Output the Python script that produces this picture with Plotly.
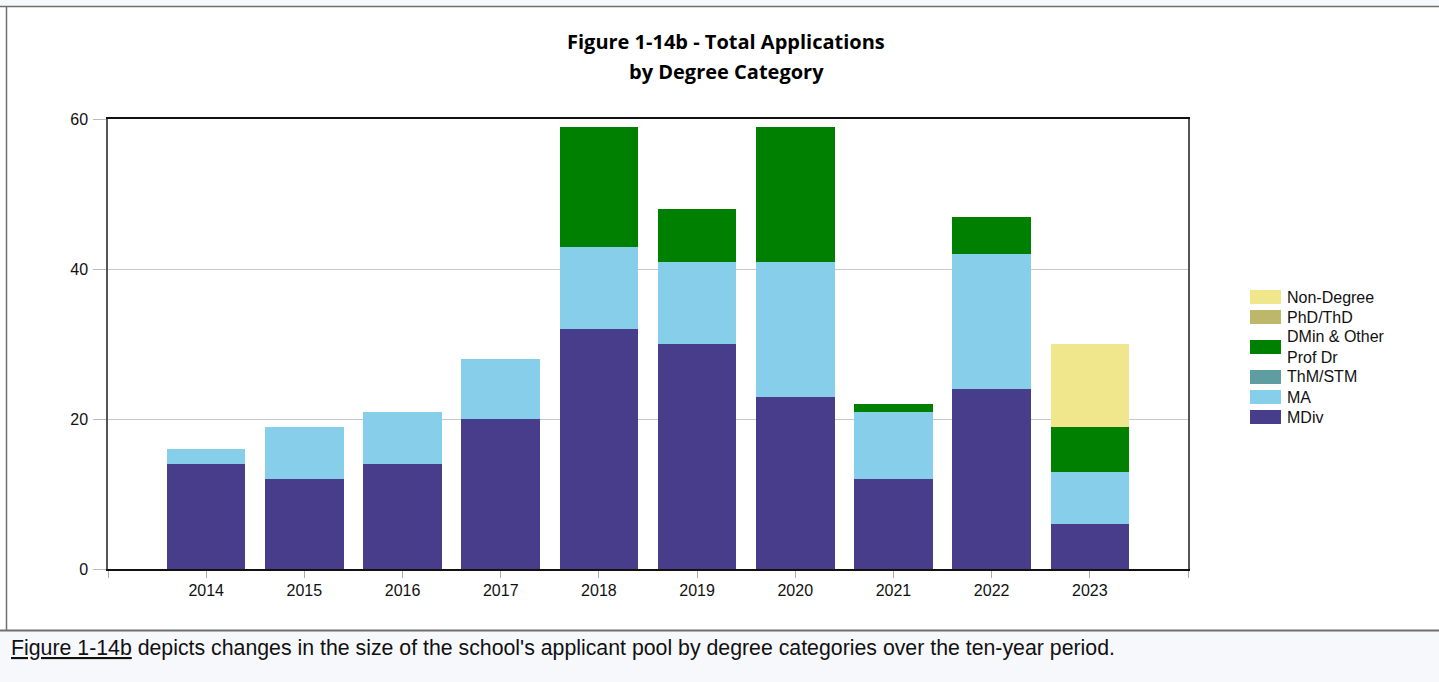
import plotly.graph_objects as go

# ---------------------------------------------------------------- data
years = [2014, 2015, 2016, 2017, 2018, 2019, 2020, 2021, 2022, 2023]
mdiv = [14, 12, 14, 20, 32, 30, 23, 12, 24, 6]
ma = [2, 7, 7, 8, 11, 11, 18, 9, 18, 7]
thm_stm = [0, 0, 0, 0, 0, 0, 0, 0, 0, 0]
dmin = [0, 0, 0, 0, 16, 7, 18, 1, 5, 6]
phd_thd = [0, 0, 0, 0, 0, 0, 0, 0, 0, 0]
non_degree = [0, 0, 0, 0, 0, 0, 0, 0, 0, 11]
y_ticks = [0, 20, 40, 60]

# stacking order bottom -> top
series = [
    ("MDiv", mdiv, "#483D8B"),
    ("MA", ma, "#87CEEB"),
    ("ThM/STM", thm_stm, "#5F9EA0"),
    ("DMin & Other<br>Prof Dr", dmin, "#008000"),
    ("PhD/ThD", phd_thd, "#BDB76B"),
    ("Non-Degree", non_degree, "#F0E68C"),
]

W, H = 1439, 682
L, R, T, B = 108, 1188, 119, 569   # plot box in pixels
PAGE_BG = "#F7F8FC"
FONT = "Liberation Sans, Arial, sans-serif"


def px(x):
    return (x - L) / (R - L)


def py(y):
    return (B - y) / (B - T)


fig = go.Figure()
for name, vals, color in series:
    fig.add_bar(x=years, y=vals, name=name, marker_color=color,
                marker_line_width=0, showlegend=False)

# ---------------------------------------------------------------- page chrome
shapes = [
    dict(type="rect", xref="paper", yref="paper", x0=px(0), x1=px(W),
         y0=py(0), y1=py(6), fillcolor=PAGE_BG, line_width=0, layer="below"),
    dict(type="line", xref="paper", yref="paper", x0=px(0), x1=px(W),
         y0=py(6.5), y1=py(6.5), line=dict(color="#6F6F6F", width=1.5)),
    dict(type="line", xref="paper", yref="paper", x0=px(6.5), x1=px(6.5),
         y0=py(7), y1=py(630), line=dict(color="#6F6F6F", width=1.5)),
    dict(type="rect", xref="paper", yref="paper", x0=px(0), x1=px(W),
         y0=py(631), y1=py(H), fillcolor=PAGE_BG, line_width=0, layer="below"),
    dict(type="line", xref="paper", yref="paper", x0=px(0), x1=px(W),
         y0=py(630.5), y1=py(630.5), line=dict(color="#6F6F6F", width=2)),
]

title_font = dict(family="Open Sans, sans-serif", size=20, color="#000")
annotations = [
    dict(text="<b>Figure 1-14b - Total Applications</b>", x=px(726), y=py(42),
         xref="paper", yref="paper", showarrow=False, xanchor="center",
         yanchor="middle", font=title_font),
    dict(text="<b>by Degree Category</b>", x=px(726), y=py(71),
         xref="paper", yref="paper", showarrow=False, xanchor="center",
         yanchor="middle", font=title_font),
    dict(text="<u>Figure 1-14b</u> depicts changes in the size of the school's "
              "applicant pool by degree categories over the ten-year period.",
         x=px(9), y=py(648), xref="paper", yref="paper", showarrow=False,
         xanchor="left", yanchor="middle",
         font=dict(family=FONT, size=21.3, color="#111")),
]

# legend drawn by hand (wide swatches, top item = top of stack)
legend_rows = [
    ("Non-Degree", "#F0E68C", 297),
    ("PhD/ThD", "#BDB76B", 317),
    ("DMin & Other<br>Prof Dr", "#008000", 347),
    ("ThM/STM", "#5F9EA0", 377),
    ("MA", "#87CEEB", 397),
    ("MDiv", "#483D8B", 417),
]
for label, color, yc in legend_rows:
    shapes.append(dict(type="rect", xref="paper", yref="paper",
                       x0=px(1250), x1=px(1281), y0=py(yc - 7), y1=py(yc + 7),
                       fillcolor=color, line_width=0))
    annotations.append(dict(text=label, x=px(1285), y=py(yc), xref="paper",
                            yref="paper", showarrow=False, xanchor="left",
                            yanchor="middle", align="left",
                            font=dict(family=FONT, size=16, color="#111")))

tick_font = dict(family=FONT, size=16, color="#111")
fig.update_layout(
    width=W, height=H,
    margin=dict(l=L, r=W - R, t=T, b=H - B, pad=0),
    paper_bgcolor="white", plot_bgcolor="white",
    barmode="stack", bargap=0.2,
    font=dict(family=FONT, size=16, color="#111"),
    shapes=shapes, annotations=annotations,
    xaxis=dict(
        range=[years[0] - 1, years[-1] + 1],
        tickvals=[years[0] - 1] + years + [years[-1] + 1],
        ticktext=[""] + [str(y) for y in years] + [""],
        tickfont=tick_font,
        ticks="outside", ticklen=7, tickcolor="#AAAAAA", tickwidth=1,
        ticklabelstandoff=-1,
        showline=True, linecolor="#111", linewidth=1.5, mirror=True,
        showgrid=False, zeroline=False, fixedrange=True,
    ),
    yaxis=dict(
        range=[0, 60], tickvals=y_ticks, tickfont=tick_font,
        ticks="outside", ticklen=13, tickcolor="#BBBBBB", tickwidth=1,
        ticklabelstandoff=2,
        showline=True, linecolor="#555", linewidth=1.5, mirror=True,
        showgrid=True, gridcolor="#C8C8C8", gridwidth=1,
        zeroline=False, fixedrange=True,
    ),
)

fig.write_html("out.html", config={"displayModeBar": False},
               post_script="document.body.style.margin='0';"
                           "document.body.style.overflow='hidden';")
